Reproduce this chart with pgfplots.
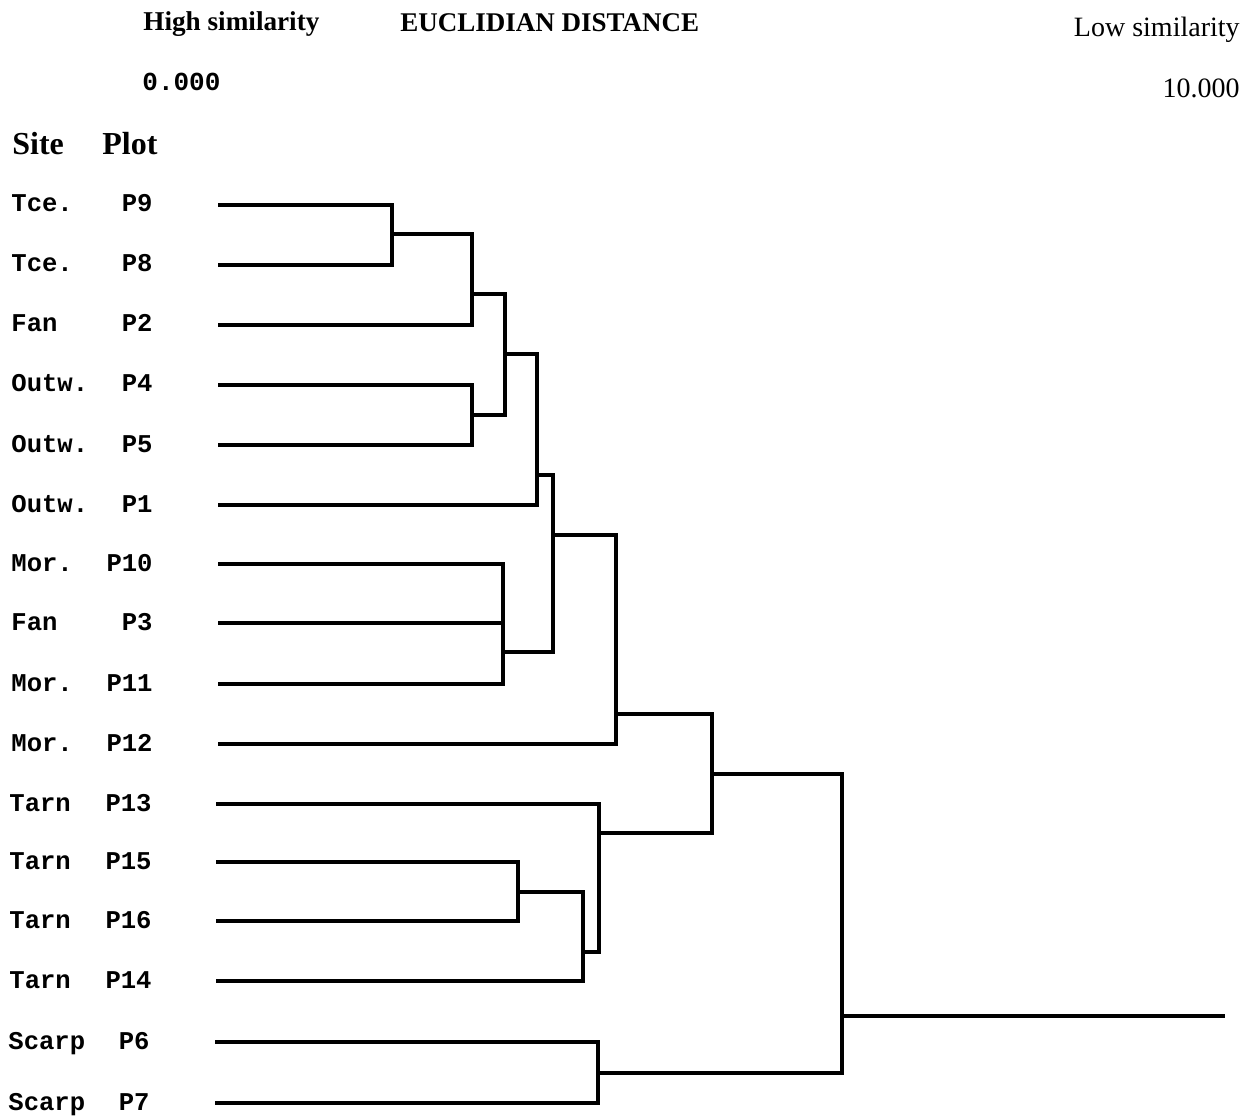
\documentclass[border=0pt]{standalone}
\usepackage{pgfplots}
\pgfplotsset{compat=1.18}
\usepackage{fontspec}
\setmainfont{Liberation Serif}
\newfontfamily\cour{Liberation Mono}
\tikzset{lbl/.style={font=\fontsize{12.8}{14}\selectfont\cour\bfseries, inner sep=0pt}}
\pgfplotsset{dl/.style={black, solid, line width=1.6pt, line join=miter, line cap=rect, mark=none}}
\begin{document}
\begin{tikzpicture}
\begin{axis}[
  width=629pt, height=556.5pt, scale only axis,
  xmin=0, xmax=1258, ymin=0, ymax=1113, y dir=reverse,
  hide axis, clip=false,
]
\path (axis cs:0,0) rectangle (axis cs:1258,1113);
% dendrogram
\addplot[dl] coordinates {(220,205) (392,205) (392,265) (220,265)};
\addplot[dl] coordinates {(392,234) (472,234) (472,325) (220,325)};
\addplot[dl] coordinates {(220,385) (472,385) (472,445) (220,445)};
\addplot[dl] coordinates {(472,294) (505,294) (505,415) (472,415)};
\addplot[dl] coordinates {(505,354) (537,354) (537,505) (220,505)};
\addplot[dl] coordinates {(220,564) (503,564) (503,684) (220,684)};
\addplot[dl] coordinates {(220,623) (503,623)};
\addplot[dl] coordinates {(537,475) (553,475) (553,652) (503,652)};
\addplot[dl] coordinates {(553,535) (616,535) (616,744) (220,744)};
\addplot[dl] coordinates {(218,862) (518,862) (518,921) (218,921)};
\addplot[dl] coordinates {(518,892) (583,892) (583,981) (218,981)};
\addplot[dl] coordinates {(218,804) (599,804) (599,952) (583,952)};
\addplot[dl] coordinates {(616,714) (712,714) (712,833) (599,833)};
\addplot[dl] coordinates {(217,1042) (598,1042) (598,1103) (217,1103)};
\addplot[dl] coordinates {(712,774) (842,774) (842,1073) (598,1073)};
\addplot[dl] coordinates {(842,1016) (1223,1016)};
% headers
\node[anchor=base west, font=\fontsize{13.6}{15}\selectfont\bfseries, inner sep=0pt] at (axis cs:143,31) {High similarity};
\node[anchor=base west, font=\fontsize{13.5}{15}\selectfont\bfseries, inner sep=0pt] at (axis cs:400,32) {EUCLIDIAN DISTANCE};
\node[anchor=base east, font=\fontsize{14}{15}\selectfont, inner sep=0pt] at (axis cs:1240,37) {Low similarity};
\node[anchor=base west, font=\fontsize{13}{15}\selectfont\cour\bfseries, inner sep=0pt] at (axis cs:142,91) {0.000};
\node[anchor=base east, font=\fontsize{14}{15}\selectfont, inner sep=0pt] at (axis cs:1240,98) {10.000};
\node[anchor=base west, font=\fontsize{16}{18}\selectfont\bfseries, inner sep=0pt] at (axis cs:12,155) {Site};
\node[anchor=base west, font=\fontsize{16}{18}\selectfont\bfseries, inner sep=0pt] at (axis cs:102,155) {Plot};
% leaf labels
\node[lbl, anchor=base west] at (axis cs:11,212) {Tce.};
\node[lbl, anchor=base east] at (axis cs:153,212) {P9};
\node[lbl, anchor=base west] at (axis cs:11,272) {Tce.};
\node[lbl, anchor=base east] at (axis cs:153,272) {P8};
\node[lbl, anchor=base west] at (axis cs:11,332) {Fan};
\node[lbl, anchor=base east] at (axis cs:153,332) {P2};
\node[lbl, anchor=base west] at (axis cs:11,392) {Outw.};
\node[lbl, anchor=base east] at (axis cs:153,392) {P4};
\node[lbl, anchor=base west] at (axis cs:11,452) {Outw.};
\node[lbl, anchor=base east] at (axis cs:153,452) {P5};
\node[lbl, anchor=base west] at (axis cs:11,512) {Outw.};
\node[lbl, anchor=base east] at (axis cs:153,512) {P1};
\node[lbl, anchor=base west] at (axis cs:11,571) {Mor.};
\node[lbl, anchor=base east] at (axis cs:153,571) {P10};
\node[lbl, anchor=base west] at (axis cs:11,630) {Fan};
\node[lbl, anchor=base east] at (axis cs:153,630) {P3};
\node[lbl, anchor=base west] at (axis cs:11,691) {Mor.};
\node[lbl, anchor=base east] at (axis cs:153,691) {P11};
\node[lbl, anchor=base west] at (axis cs:11,751) {Mor.};
\node[lbl, anchor=base east] at (axis cs:153,751) {P12};
\node[lbl, anchor=base west] at (axis cs:9,811) {Tarn};
\node[lbl, anchor=base east] at (axis cs:152,811) {P13};
\node[lbl, anchor=base west] at (axis cs:9,869) {Tarn};
\node[lbl, anchor=base east] at (axis cs:152,869) {P15};
\node[lbl, anchor=base west] at (axis cs:9,928) {Tarn};
\node[lbl, anchor=base east] at (axis cs:152,928) {P16};
\node[lbl, anchor=base west] at (axis cs:9,988) {Tarn};
\node[lbl, anchor=base east] at (axis cs:152,988) {P14};
\node[lbl, anchor=base west] at (axis cs:8,1049) {Scarp};
\node[lbl, anchor=base east] at (axis cs:150,1049) {P6};
\node[lbl, anchor=base west] at (axis cs:8,1110) {Scarp};
\node[lbl, anchor=base east] at (axis cs:150,1110) {P7};
\end{axis}
\end{tikzpicture}
\end{document}
